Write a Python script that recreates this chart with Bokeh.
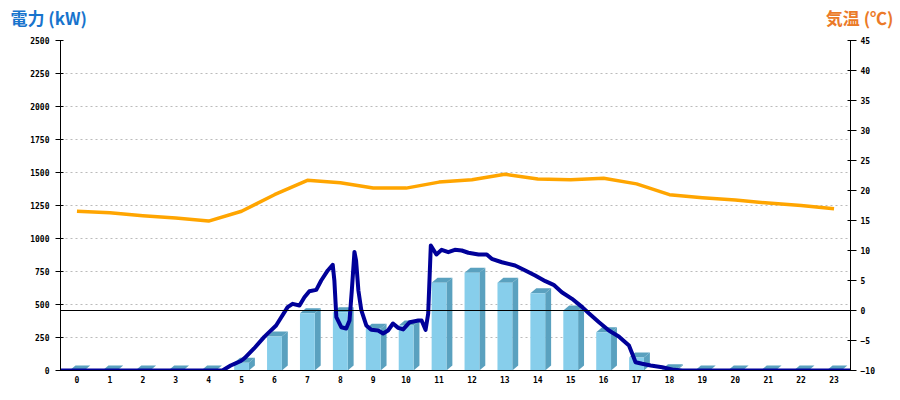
from bokeh.plotting import figure
from bokeh.models import Range1d, LinearAxis, FixedTicker, SingleIntervalTicker, Span
from bokeh.core.properties import value
from bokeh.embed import file_html
from bokeh.resources import INLINE

# ---------------- data ----------------
hours = list(range(24))
hour_labels = [str(h) for h in hours]

# hourly power (kW) shown as 3D bars
power_bars = [0, 0, 0, 0, 0, 58, 258, 434, 442, 316, 341, 664,
              740, 664, 586, 455, 290, 98, 10, 0, 0, 0, 0, 0]

# hourly temperature (deg C)
temperature = [16.55, 16.3, 15.8, 15.4, 14.9, 16.55, 19.3, 21.7, 21.3, 20.4, 20.4, 21.4,
               21.8, 22.7, 21.9, 21.8, 22.05, 21.1, 19.3, 18.8, 18.4, 17.9, 17.5, 16.95]

# instantaneous power (time in hours since midnight, kW)
power_time = [0.0, 4.92, 5.17, 5.30, 5.48, 5.60, 5.88, 6.19, 6.55, 6.90, 7.05, 7.26,
              7.41, 7.56, 7.77, 7.92, 8.12, 8.27, 8.32, 8.38, 8.53, 8.68, 8.78, 8.85,
              8.93, 8.98, 9.05, 9.14, 9.29, 9.44, 9.65, 9.80, 9.95, 10.10, 10.26, 10.41,
              10.61, 10.87, 10.97, 11.09, 11.17, 11.25, 11.42, 11.58, 11.78, 11.98, 12.19, 12.39,
              12.70, 12.95, 13.10, 13.41, 13.81, 14.12, 14.42, 14.73, 14.98, 15.23, 15.54, 15.85,
              16.05, 16.35, 16.66, 16.96, 17.27, 17.37, 17.47, 17.67, 17.93, 18.28, 18.64, 18.89,
              24.0]
power_kw = [0, 0, 38, 52, 72, 95, 167, 255, 341, 480, 505, 492,
            555, 601, 611, 682, 758, 801, 682, 404, 328, 318, 379, 606,
            898, 833, 606, 455, 341, 308, 303, 280, 303, 356, 323, 311,
            366, 379, 379, 308, 430, 947, 879, 914, 896, 914, 909, 892,
            879, 879, 846, 820, 795, 758, 720, 677, 649, 593, 543, 480,
            434, 368, 303, 258, 189, 127, 63, 51, 38, 25, 5, 0,
            0]

left_title = "電力 (kW)"
right_title = "気温 (℃)"
left_ticks_interval = 250
right_ticks_interval = 5

tick_font = "DejaVu Sans Mono"
title_font = "Noto Sans CJK JP"

# ---------------- title strip ----------------
tf = figure(width=900, height=34, output_backend="svg", toolbar_location=None,
            x_range=Range1d(0, 900), y_range=Range1d(0, 34),
            min_border_left=0, min_border_right=0, min_border_top=0, min_border_bottom=0,
            background_fill_color="white", border_fill_color="white")
tf.axis.visible = False
tf.grid.visible = False
tf.outline_line_color = None
tf.text(x=[10], y=[17], text=[left_title], text_font=value(title_font),
        text_font_size="17px", text_font_style="bold", text_color="#1874CD",
        text_align="left", text_baseline="middle")
tf.text(x=[893], y=[17], text=[right_title], text_font=value(title_font),
        text_font_size="17px", text_font_style="bold", text_color="#EB7A28",
        text_align="right", text_baseline="middle")

# ---------------- main figure ----------------
p = figure(width=900, height=366, output_backend="svg", toolbar_location=None,
           x_range=Range1d(-0.5, 23.5), y_range=Range1d(0, 2500),
           min_border_left=60, min_border_right=50, min_border_top=6, min_border_bottom=30,
           background_fill_color="white", border_fill_color="white")
p.outline_line_color = None
p.extra_y_ranges = {"temp": Range1d(-10, 45)}

# left axis
p.yaxis.ticker = SingleIntervalTicker(interval=left_ticks_interval)
p.yaxis.axis_line_color = "black"
p.yaxis.major_tick_line_color = "black"
p.yaxis.major_tick_in = 3
p.yaxis.major_tick_out = 5
p.yaxis.minor_tick_line_color = None
p.yaxis.major_label_standoff = 6
p.yaxis.major_label_text_font = tick_font
p.yaxis.major_label_text_font_size = "8px"
p.yaxis.major_label_text_font_style = "bold"
p.yaxis.major_label_text_color = "black"

# bottom axis
p.xaxis.ticker = FixedTicker(ticks=hours)
p.xaxis.major_label_overrides = {h: lab for h, lab in zip(hours, hour_labels)}
p.xaxis.axis_line_color = "black"
p.xaxis.major_tick_line_color = None
p.xaxis.major_tick_in = 0
p.xaxis.major_tick_out = 0
p.xaxis.minor_tick_line_color = None
p.xaxis.major_label_standoff = 5
p.xaxis.major_label_text_font = tick_font
p.xaxis.major_label_text_font_size = "8px"
p.xaxis.major_label_text_font_style = "bold"
p.xaxis.major_label_text_color = "black"

# right axis
raxis = LinearAxis(y_range_name="temp", ticker=SingleIntervalTicker(interval=right_ticks_interval))
raxis.axis_line_color = "black"
raxis.major_tick_line_color = "black"
raxis.major_tick_in = 3
raxis.major_tick_out = 6
raxis.minor_tick_line_color = None
raxis.major_label_standoff = 4
raxis.major_label_text_font = tick_font
raxis.major_label_text_font_size = "8px"
raxis.major_label_text_font_style = "bold"
raxis.major_label_text_color = "black"
p.add_layout(raxis, "right")

# grid
p.xgrid.grid_line_color = None
p.ygrid.grid_line_color = "#bbbbbb"
p.ygrid.grid_line_dash = "2 3"
p.ygrid.grid_line_width = 1

# ---------------- 3D bars ----------------
half_w = 0.225
dx = 0.18
dy = 38
front_xs, front_ys, side_xs, side_ys, top_xs, top_ys = [], [], [], [], [], []
for h, v in zip(hours, power_bars):
    l, r = h - half_w, h + half_w
    front_xs.append([l, r, r, l])
    front_ys.append([0, 0, v, v])
    side_xs.append([r, r + dx, r + dx, r])
    side_ys.append([0, dy, v + dy, v])
    top_xs.append([l, l + dx, r + dx, r])
    top_ys.append([v, v + dy, v + dy, v])

p.patches(side_xs, side_ys, fill_color="#5AA1BF", line_color=None)
p.patches(top_xs, top_ys, fill_color="#5AA1BF", line_color=None)
p.patches(front_xs, front_ys, fill_color="#87CEEB", line_color=None)

# 0 deg C line
p.add_layout(Span(location=0, dimension="width", y_range_name="temp",
                  line_color="black", line_width=1))

# temperature line
p.line(hours, temperature, y_range_name="temp", line_color="#FFA500", line_width=3.5,
       line_join="round")

# power line
p.line([t - 0.5 for t in power_time], power_kw, line_color="#000099", line_width=4,
       line_join="round", line_cap="round")

open("out.html", "w").write(file_html((tf, p), INLINE))
